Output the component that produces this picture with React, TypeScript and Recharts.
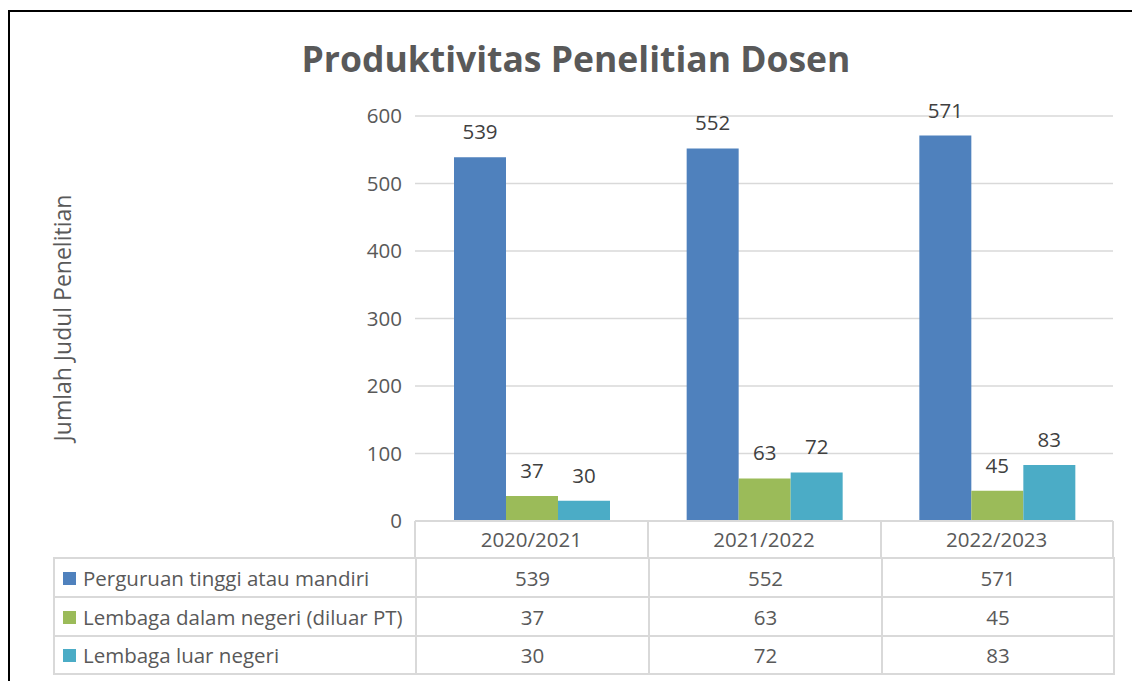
import { BarChart, Bar, XAxis, YAxis, CartesianGrid, LabelList } from 'recharts'

const categories = ['2020/2021', '2021/2022', '2022/2023']
const seriesNames = ['Perguruan tinggi atau mandiri', 'Lembaga dalam negeri (diluar PT)', 'Lembaga luar negeri']
const perguruanTinggi = [539, 552, 571]
const lembagaDalamNegeri = [37, 63, 45]
const lembagaLuarNegeri = [30, 72, 83]
const yTicks = [0, 100, 200, 300, 400, 500, 600]

const colors = ['#4f81bd', '#9bbb59', '#4bacc6']
const keys = ['pt', 'dn', 'ln']
const seriesValues = [perguruanTinggi, lembagaDalamNegeri, lembagaLuarNegeri]

const data = categories.map((name, i) => ({
  name,
  pt: perguruanTinggi[i],
  dn: lembagaDalamNegeri[i],
  ln: lembagaLuarNegeri[i],
}))

const FONT = '"Open Sans", Lato, sans-serif'
const TEXT = '#595959'
const LINE = '2px solid #d9d9d9'
const FS = 20.5

export default function App() {
  const colW = [362, 233, 233, 232]
  return (
    <div style={{ position: 'absolute', left: 0, top: 0, width: 1132, height: 681, background: '#fff', overflow: 'hidden', fontFamily: FONT }}>
      {/* outer frame */}
      <div style={{ position: 'absolute', left: 8, top: 10, width: 1140, height: 700, borderLeft: '2px solid #000', borderTop: '2px solid #000' }} />

      <div style={{ position: 'absolute', left: 0, top: 34, width: 1152, textAlign: 'center', fontSize: 35.5, fontWeight: 700, color: TEXT, lineHeight: '48px' }}>
        Produktivitas Penelitian Dosen
      </div>

      <div style={{ position: 'absolute', left: 62, top: 318, transform: 'translate(-50%, -50%) rotate(-90deg)', whiteSpace: 'nowrap', fontSize: 23, color: TEXT }}>
        Jumlah Judul Penelitian
      </div>

      <div style={{ position: 'absolute', left: 0, top: 0 }}>
        <BarChart width={1132} height={681} data={data} margin={{ top: 116, right: 19, bottom: 130, left: 355 }} barCategoryGap={39} barGap={0}>
          <CartesianGrid vertical={false} stroke="#d9d9d9" strokeWidth={1.5} />
          <YAxis
            width={60}
            domain={[0, 600]}
            ticks={yTicks}
            axisLine={false}
            tickLine={false}
            tickMargin={7}
            tick={{ fill: TEXT, fontSize: FS, fontFamily: FONT }}
          />
          <XAxis
            dataKey="name"
            height={30}
            axisLine={{ stroke: '#d9d9d9', strokeWidth: 2 }}
            tickLine={false}
            tickMargin={5}
            tick={{ fill: TEXT, fontSize: FS, fontFamily: FONT }}
          />
          {keys.map((k, i) => (
            <Bar key={k} dataKey={k} fill={colors[i]} isAnimationActive={false}>
              <LabelList dataKey={k} position="top" offset={18} fill="#404040" fontSize={FS} fontFamily={FONT} />
            </Bar>
          ))}
        </BarChart>
      </div>

      {/* header row vertical separators */}
      {[415, 648, 881, 1113].map((x) => (
        <div key={x} style={{ position: 'absolute', left: x - 1, top: 521, width: 0, height: 38, borderLeft: LINE }} />
      ))}

      {/* data table */}
      <table style={{ position: 'absolute', left: 53, top: 557, borderCollapse: 'collapse', tableLayout: 'fixed', width: 1061, fontSize: FS, color: TEXT }}>
        <colgroup>
          {colW.map((w, i) => <col key={i} style={{ width: w }} />)}
        </colgroup>
        <tbody>
          {seriesNames.map((s, r) => (
            <tr key={s} style={{ height: r === 2 ? 38 : 39 }}>
              <td style={{ border: LINE, padding: '0 0 0 8px', whiteSpace: 'nowrap', overflow: 'hidden' }}>
                <span style={{ display: 'inline-block', width: 13, height: 13, background: colors[r], marginRight: 7, verticalAlign: 'middle', position: 'relative', top: -2 }} />
                {s}
              </td>
              {seriesValues[r].map((v, c) => (
                <td key={c} style={{ border: LINE, textAlign: 'center', padding: 0 }}>{v}</td>
              ))}
            </tr>
          ))}
        </tbody>
      </table>
    </div>
  )
}
